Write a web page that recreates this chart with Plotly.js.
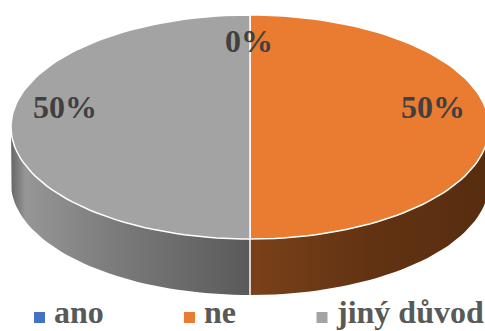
<!DOCTYPE html>
<html><head><meta charset="utf-8">
<script src="https://cdn.plot.ly/plotly-3.0.1.min.js"></script>
<style>html,body{margin:0;padding:0;background:#fff}#c{width:485px;height:331px}</style>
</head><body><div id="c"></div>
<script>
const categories = ['ano', 'ne', 'jiný důvod'];
const shares = [0, 50, 50];
const labels = ['0%', '50%', '50%'];
const colors = ['#4472C4', '#E97C30', '#A3A3A3'];

// Pie geometry in pixel-like axis units
const cx = 250, cy = 127, rx = 239, ry = 112, depth = 56;
const pt = (deg, dy) => {
  const a = deg * Math.PI / 180;
  return [cx + rx * Math.sin(a), cy - ry * Math.cos(a) + (dy || 0)];
};
const range = (a, b) => {
  const o = [], n = Math.max(2, Math.ceil(Math.abs(b - a) / 2));
  for (let i = 0; i <= n; i++) o.push(a + (b - a) * i / n);
  return o;
};
const total = shares.reduce((s, v) => s + v, 0);
let start = 0;
const spans = shares.map(v => { const s = start; start += v / total * 360; return [s, start]; });

const traces = [];
// side walls
const wall = (a, b, scale) => {
  const top = range(a, b).map(d => pt(d, 0));
  const bot = range(b, a).map(d => pt(d, depth));
  const all = top.concat(bot, [top[0]]);
  return {x: all.map(p => p[0]), y: all.map(p => p[1]), mode: 'lines', fill: 'toself',
    line: {width: 0}, fillcolor: scale[0][1],
    fillgradient: {type: 'horizontal', colorscale: scale}, hoverinfo: 'skip', showlegend: false};
};
traces.push(wall(90, spans[1][1], [[0, '#7a4119'], [0.5, '#623313'], [1, '#572d0f']]));
traces.push(wall(spans[2][0], 270, [[0, '#666666'], [0.06, '#969696'], [0.45, '#7a7a7a'], [1, '#5a5a5a']]));
// seam between the walls
const seam = [pt(spans[1][1], 0), pt(spans[1][1], depth)];
traces.push({x: seam.map(p => p[0]), y: seam.map(p => p[1]), mode: 'lines',
  line: {color: '#ffffff', width: 1.5}, hoverinfo: 'skip', showlegend: false});
// top faces
shares.forEach((v, i) => {
  if (!v) return;
  const arc = range(spans[i][0], spans[i][1]).map(d => pt(d, 0));
  const all = [[cx, cy]].concat(arc, [[cx, cy]]);
  traces.push({x: all.map(p => p[0]), y: all.map(p => p[1]), mode: 'lines', fill: 'toself',
    line: {color: '#ffffff', width: 1.5}, fillcolor: colors[i], name: categories[i],
    hoverinfo: 'skip', showlegend: false});
});

const tf = {family: 'Liberation Serif, serif', size: 32, color: '#404040'};
const lf = {family: 'Liberation Serif, serif', size: 32, color: '#595959'};
const layout = {
  width: 485, height: 331, margin: {l: 0, r: 0, t: 0, b: 0},
  paper_bgcolor: '#fff', plot_bgcolor: '#fff',
  xaxis: {range: [0, 485], visible: false, fixedrange: true},
  yaxis: {range: [331, 0], visible: false, fixedrange: true},
  showlegend: false,
  annotations: [
    {x: 249, y: 41, text: labels[0], showarrow: false, font: tf},
    {x: 433, y: 107, text: labels[1], showarrow: false, font: tf},
    {x: 65, y: 107, text: labels[2], showarrow: false, font: tf},
    {x: 79, y: 312, text: categories[0], showarrow: false, font: lf},
    {x: 220, y: 312, text: categories[1], showarrow: false, font: lf},
    {x: 410, y: 312, text: categories[2], showarrow: false, font: lf}
  ].map(a => Object.assign(a, {text: '<b>' + a.text + '</b>'})),
  shapes: [0, 1, 2].map(i => {
    const xs = [39.5, 189.5, 322][i];
    return {type: 'rect', x0: xs - 5.5, x1: xs + 5.5, y0: 312, y1: 323, fillcolor: colors[i], line: {width: 0}};
  })
};
Plotly.newPlot('c', traces, layout, {displayModeBar: false, staticPlot: true});
</script></body></html>
